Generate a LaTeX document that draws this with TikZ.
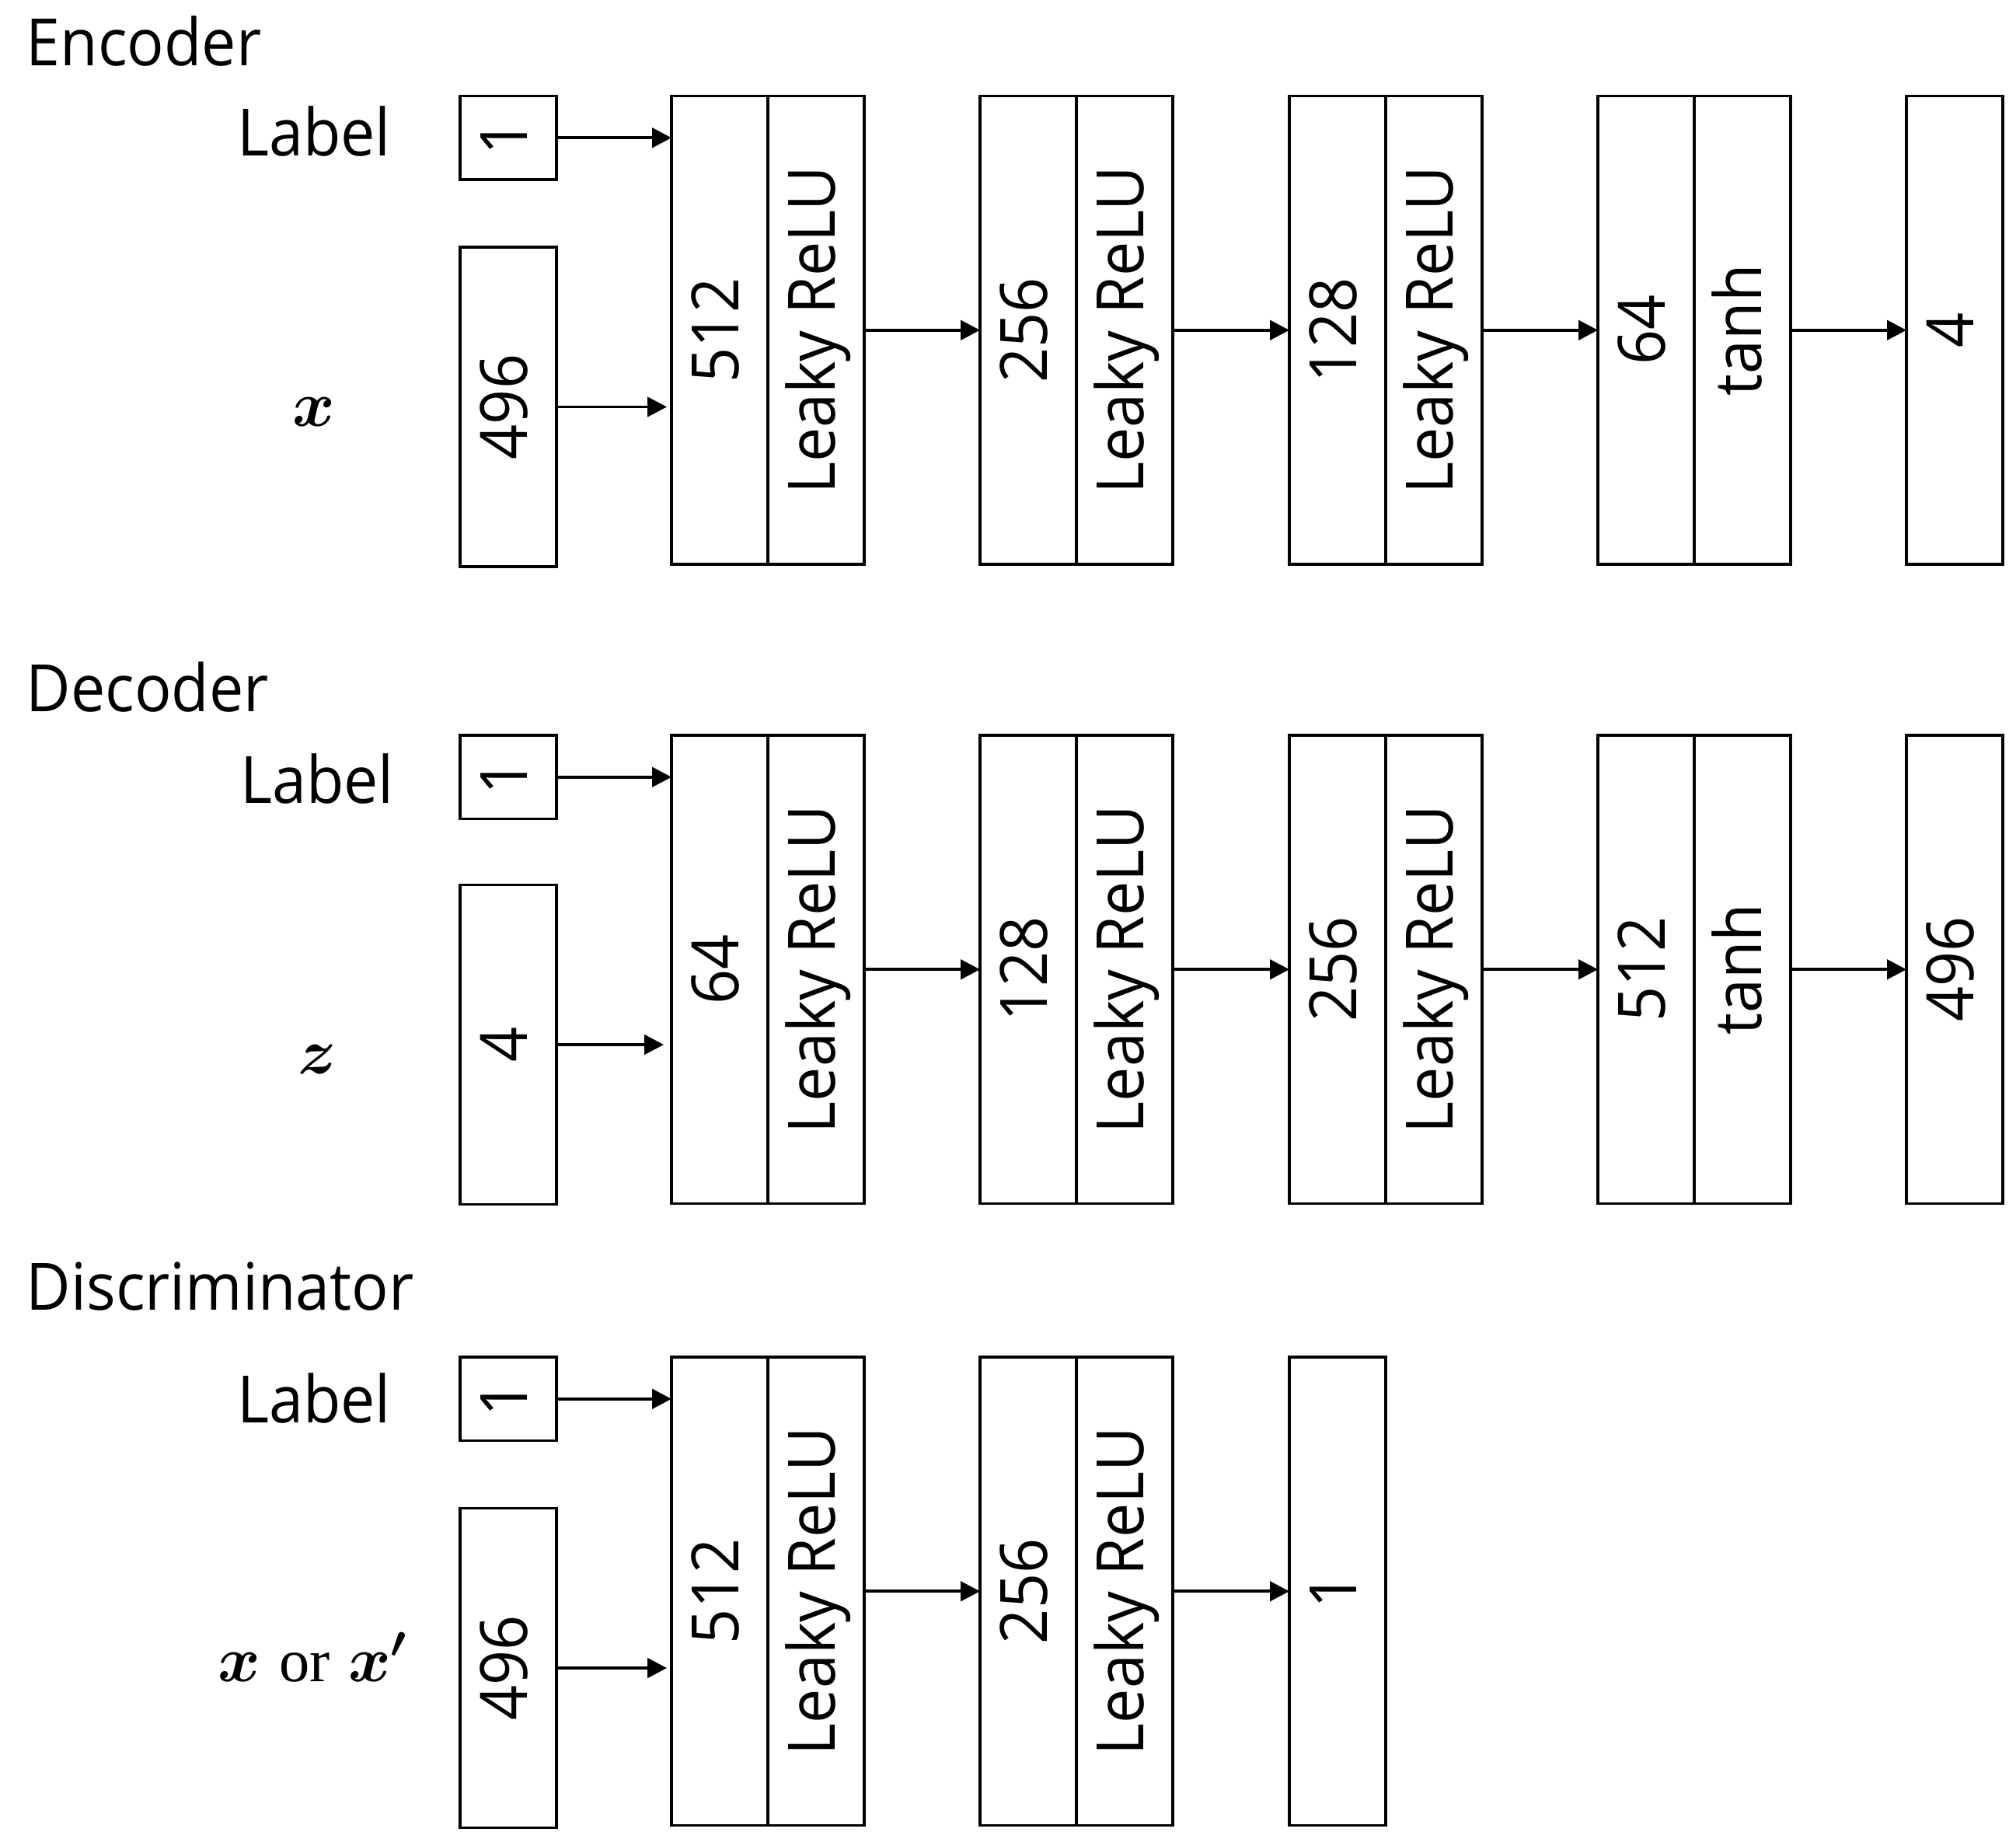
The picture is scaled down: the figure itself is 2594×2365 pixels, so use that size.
\documentclass[tikz,border=0pt]{standalone}
\usepackage{fontspec}
\newfontfamily\osans[FakeStretch=0.94]{Open Sans}
\newfontfamily\lserif{Liberation Serif}
\usetikzlibrary{arrows.meta}
\newcommand\pxu{0.3pt}
\begin{document}
\begin{tikzpicture}[x=0.3pt,y=-0.3pt,line width=1.1pt,
  box/.style={draw,inner sep=0pt,outer sep=0pt,minimum width=124*\pxu},
  cell/.style={box,minimum height=602.5*\pxu},
  lbox/.style={box,minimum height=107.5*\pxu},
  ibox/.style={box,minimum height=411*\pxu},
  vtxt/.style={rotate=90,inner sep=0pt,font=\osans\fontsize{25.2}{30}\selectfont,text height=20.2pt,text depth=5.8pt},
  title/.style={anchor=base west,inner sep=0pt,font=\osans\fontsize{25.2}{30}\selectfont},
  lbl/.style={anchor=base,inner sep=0pt,font=\osans\fontsize{25.2}{30}\selectfont},
  mlbl/.style={anchor=base,inner sep=0pt,font=\fontsize{23.5}{28}\selectfont\boldmath},
  arr/.style={-{Triangle[length=7.5pt,width=7.6pt]}}]
\useasboundingbox (0,0) rectangle (2594,2365);

% ---------------- Encoder ----------------
\node[title] (encT) at (32,84.6) {Encoder};
\node[lbl] (encL) at (404,200.7) {Label};
\node[mlbl] (encX) at (404,548) {$x$};
\node[lbox] (encLb) at (654,177.25) {};
\node[vtxt] (encLt) at (encLb) {1};
\node[ibox] (encXb) at (654,523.5) {};
\node[vtxt] (encXt) at (encXb) {496};
\node[cell] (e1a) at (926,424.75) {};
\node[cell] (e1b) at (1050,424.75) {};
\node[vtxt] (e1at) at (e1a) {512};
\node[vtxt] (e1bt) at (e1b) {Leaky ReLU};
\node[cell] (e2a) at (1323,424.75) {};
\node[cell] (e2b) at (1447,424.75) {};
\node[vtxt] (e2at) at (e2a) {256};
\node[vtxt] (e2bt) at (e2b) {Leaky ReLU};
\node[cell] (e3a) at (1721,424.75) {};
\node[cell] (e3b) at (1845,424.75) {};
\node[vtxt] (e3at) at (e3a) {128};
\node[vtxt] (e3bt) at (e3b) {Leaky ReLU};
\node[cell] (e4a) at (2118,424.75) {};
\node[cell] (e4b) at (2242,424.75) {};
\node[vtxt] (e4at) at (e4a) {64};
\node[vtxt] (e4bt) at (e4b) {tanh};
\node[cell] (e5) at (2515,424.75) {};
\node[vtxt] (e5t) at (e5) {4};
\draw[arr] (encLb.east) -- (encLb.east -| e1a.west);
\draw[arr,shorten >=1.8pt] (encXb.east) -- (encXb.east -| e1a.west);
\draw[arr] (e1b.east) -- (e2a.west);
\draw[arr] (e2b.east) -- (e3a.west);
\draw[arr] (e3b.east) -- (e4a.west);
\draw[arr] (e4b.east) -- (e5.west);

% ---------------- Decoder ----------------
\node[title] (decT) at (32,915.4) {Decoder};
\node[lbl] (decL) at (408,1033.6) {Label};
\node[mlbl] (decZ) at (408,1381) {$z$};
\node[lbox] (decLb) at (654,999.75) {};
\node[vtxt] (decLt) at (decLb) {1};
\node[ibox] (decZb) at (654,1344) {};
\node[vtxt] (decZt) at (decZb) {4};
\node[cell] (d1a) at (926,1247.25) {};
\node[cell] (d1b) at (1050,1247.25) {};
\node[vtxt] (d1at) at (d1a) {64};
\node[vtxt] (d1bt) at (d1b) {Leaky ReLU};
\node[cell] (d2a) at (1323,1247.25) {};
\node[cell] (d2b) at (1447,1247.25) {};
\node[vtxt] (d2at) at (d2a) {128};
\node[vtxt] (d2bt) at (d2b) {Leaky ReLU};
\node[cell] (d3a) at (1721,1247.25) {};
\node[cell] (d3b) at (1845,1247.25) {};
\node[vtxt] (d3at) at (d3a) {256};
\node[vtxt] (d3bt) at (d3b) {Leaky ReLU};
\node[cell] (d4a) at (2118,1247.25) {};
\node[cell] (d4b) at (2242,1247.25) {};
\node[vtxt] (d4at) at (d4a) {512};
\node[vtxt] (d4bt) at (d4b) {tanh};
\node[cell] (d5) at (2515,1247.25) {};
\node[vtxt] (d5t) at (d5) {496};
\draw[arr] (decLb.east) -- (decLb.east -| d1a.west);
\draw[arr,shorten >=3pt] (decZb.east) -- (decZb.east -| d1a.west);
\draw[arr] (d1b.east) -- (d2a.west);
\draw[arr] (d2b.east) -- (d3a.west);
\draw[arr] (d3b.east) -- (d4a.west);
\draw[arr] (d4b.east) -- (d5.west);

% ---------------- Discriminator ----------------
\node[title] (disT) at (32,1685.7) {Discriminator};
\node[lbl] (disL) at (404,1830.4) {Label};
\node[mlbl] (disX) at (402.5,2163) {$x$ {\lserif or} $x'$};
\node[lbox] (disLb) at (654,1799.75) {};
\node[vtxt] (disLt) at (disLb) {1};
\node[ibox] (disXb) at (654,2146) {};
\node[vtxt] (disXt) at (disXb) {496};
\node[cell] (s1a) at (926,2047.25) {};
\node[cell] (s1b) at (1050,2047.25) {};
\node[vtxt] (s1at) at (s1a) {512};
\node[vtxt] (s1bt) at (s1b) {Leaky ReLU};
\node[cell] (s2a) at (1323,2047.25) {};
\node[cell] (s2b) at (1447,2047.25) {};
\node[vtxt] (s2at) at (s2a) {256};
\node[vtxt] (s2bt) at (s2b) {Leaky ReLU};
\node[cell] (s3) at (1721,2047.25) {};
\node[vtxt] (s3t) at (s3) {1};
\draw[arr] (disLb.east) -- (disLb.east -| s1a.west);
\draw[arr,shorten >=1.8pt] (disXb.east) -- (disXb.east -| s1a.west);
\draw[arr] (s1b.east) -- (s2a.west);
\draw[arr] (s2b.east) -- (s3.west);
\end{tikzpicture}
\end{document}
